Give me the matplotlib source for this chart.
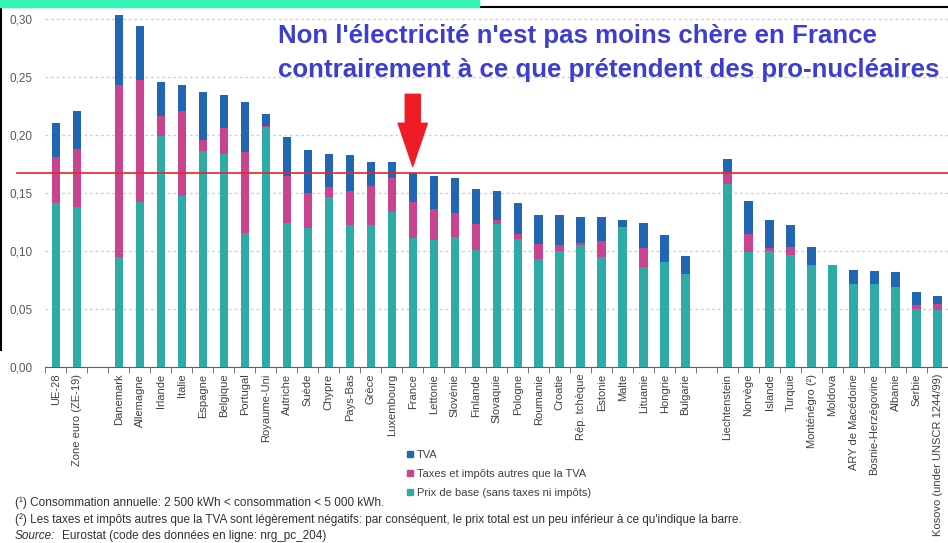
import numpy as np
import matplotlib
matplotlib.use("Agg")
import matplotlib.pyplot as plt
from matplotlib.patches import Rectangle, Patch
from matplotlib.lines import Line2D

plt.rcParams["font.family"] = ["Liberation Sans", "DejaVu Sans"]

# prix de l'électricité pour les ménages, EUR/kWh (2e semestre)
agg_labels = ["UE-28", "Zone euro (ZE-19)"]
agg_base = [0.1415, 0.1375]
agg_taxes = [0.0392, 0.0505]
agg_tva = [0.0293, 0.0326]

eu_labels = ["Danemark", "Allemagne", "Irlande", "Italie", "Espagne", "Belgique",
             "Portugal", "Royaume-Uni", "Autriche", "Suède", "Chypre", "Pays-Bas",
             "Grèce", "Luxembourg", "France", "Lettonie", "Slovénie", "Finlande",
             "Slovaquie", "Pologne", "Roumanie", "Croatie", "Rép. tchèque", "Estonie",
             "Malte", "Lituanie", "Hongrie", "Bulgarie"]
eu_base = [0.0944, 0.1424, 0.1990, 0.1476, 0.1864, 0.1838, 0.1151, 0.2070,
           0.1242, 0.1200, 0.1467, 0.1223, 0.1223, 0.1332, 0.1108, 0.1093,
           0.1122, 0.1007, 0.1231, 0.1099, 0.0932, 0.1001, 0.1053, 0.0949,
           0.1208, 0.0860, 0.0900, 0.0803]
eu_taxes = [0.1486, 0.1050, 0.0173, 0.0727, 0.0092, 0.0219, 0.0704, 0.0010,
            0.0403, 0.0296, 0.0081, 0.0293, 0.0339, 0.0299, 0.0316, 0.0270,
            0.0207, 0.0224, 0.0037, 0.0049, 0.0124, 0.0046, 0.0011, 0.0133,
            0.0000, 0.0164, 0.0000, 0.0000]
eu_tva = [0.0605, 0.0468, 0.0291, 0.0228, 0.0414, 0.0287, 0.0426, 0.0100,
          0.0334, 0.0374, 0.0287, 0.0313, 0.0207, 0.0132, 0.0245, 0.0282,
          0.0302, 0.0302, 0.0248, 0.0267, 0.0256, 0.0259, 0.0225, 0.0207,
          0.0058, 0.0216, 0.0239, 0.0152]

other_labels = ["Liechtenstein", "Norvège", "Islande", "Turquie", "Monténégro (²)",
                "Moldova", "ARY de Macédoine", "Bosnie-Herzégovine", "Albanie",
                "Serbie", "Kosovo (under UNSCR 1244/99)"]
other_base = [0.1576, 0.0992, 0.1001, 0.0966, 0.0875, 0.0880, 0.0711, 0.0711,
              0.0688, 0.0500, 0.0487]
other_taxes = [0.0104, 0.0156, 0.0020, 0.0069, 0.0000, 0.0000, 0.0000, 0.0000,
               0.0000, 0.0035, 0.0057]
other_tva = [0.0115, 0.0282, 0.0245, 0.0188, 0.0158, 0.0000, 0.0120, 0.0115,
             0.0126, 0.0107, 0.0066]

legend_labels = ["TVA", "Taxes et impôts autres que la TVA",
                 "Prix de base (sans taxes ni impôts)"]

c_tva = "#2166b2"
c_tax = "#c9448f"
c_base = "#2eaaa7"
txt = "#404040"

# groups separated by one empty slot
groups = [agg_labels, eu_labels, other_labels]
pos = []
start = 0
for g in groups:
    pos.extend(range(start, start + len(g)))
    start += len(g) + 1
x = np.array(pos)
labels = agg_labels + eu_labels + other_labels
base = np.array(agg_base + eu_base + other_base)
taxes = np.array(agg_taxes + eu_taxes + other_taxes)
tva = np.array(agg_tva + eu_tva + other_tva)

W, H = 948, 543
fig = plt.figure(figsize=(W / 100, H / 100), dpi=100)
ax = fig.add_axes([45 / W, 1 - 366.7 / H, 1 - 45 / W, 356.7 / H])

bw = 0.4
ax.bar(x, base, bw, color=c_base, zorder=3)
ax.bar(x, taxes, bw, bottom=base, color=c_tax, zorder=3)
ax.bar(x, tva, bw, bottom=base + taxes, color=c_tva, zorder=3)

ax.set_xlim(-0.52, 42.2)
ax.set_ylim(0, 0.3078)
yt = np.arange(0, 0.301, 0.05)
ax.set_yticks(yt)
ax.set_yticklabels([f"{v:.2f}".replace(".", ",") for v in yt], fontsize=8.5, color="#595959")
ax.tick_params(axis="y", length=0, pad=9)
ax.grid(axis="y", color="#d0d0d0", linestyle=(0, (2, 2)), linewidth=1, zorder=0)

ax.set_xticks(x)
ax.set_xticklabels(labels, rotation=90, fontsize=8, color=txt)
ax.set_xticks(np.arange(-0.5, 43, 1), minor=True)
ax.tick_params(axis="x", which="major", length=0, pad=5)
ax.tick_params(axis="x", which="minor", length=4, color="#606060", direction="out")

for s in ["left", "top", "right"]:
    ax.spines[s].set_visible(False)
ax.spines["bottom"].set_color("#606060")

# ligne de référence : prix total en France
fi = labels.index("France")
france_total = base[fi] + taxes[fi] + tva[fi]
ax.axhline(france_total, xmin=-28 / 903, xmax=1, color="#e8242b", linewidth=1.2,
           zorder=4, clip_on=False)
ax.annotate("", xy=(x[fi], france_total), xytext=(0, 79), textcoords="offset pixels",
            arrowprops=dict(arrowstyle="simple,head_length=3.1,head_width=2.1,tail_width=1.08",
                            color="#ee1c24", shrinkA=0, shrinkB=5, mutation_scale=10),
            zorder=5)

fig.text(278 / W, 1 - 43 / H, "Non l'électricité n'est pas moins chère en France",
         fontsize=18.6, fontweight="bold", color="#3d3dd2", ha="left", va="baseline")
fig.text(278 / W, 1 - 77 / H, "contrairement à ce que prétendent des pro-nucléaires",
         fontsize=18.6, fontweight="bold", color="#3d3dd2", ha="left", va="baseline")

handles = [Patch(color=c_tva), Patch(color=c_tax), Patch(color=c_base)]
fig.legend(handles, legend_labels, loc="upper left", bbox_to_anchor=(397 / W, 1 - 440 / H),
           frameon=False, fontsize=8, handlelength=0.55, handleheight=0.55,
           handletextpad=0.35, labelspacing=0.8, labelcolor=txt)

fs = 8.5
fig.text(15 / W, 1 - 503 / H,
         "(¹) Consommation annuelle: 2 500 kWh < consommation < 5 000 kWh.",
         fontsize=fs, color="#303030", va="center")
fig.text(15 / W, 1 - 520 / H,
         "(²) Les taxes et impôts autres que la TVA sont légèrement négatifs: par conséquent, "
         "le prix total est un peu inférieur à ce qu'indique la barre.",
         fontsize=fs, color="#303030", va="center")
fig.text(15 / W, 1 - 536 / H, "Source:", fontsize=fs, style="italic", color="#303030",
         va="center")
fig.text(62 / W, 1 - 536 / H, "Eurostat (code des données en ligne: nrg_pc_204)",
         fontsize=fs, color="#303030", va="center")

# bandeau de la capture d'écran
fig.patches.append(Rectangle((0, 1 - 7 / H), 479 / W, 7 / H, transform=fig.transFigure,
                             color="#33f5b5", zorder=10))
fig.lines.append(Line2D([479 / W, 479 / W, 1], [1, 1 - 7 / H, 1 - 7 / H],
                        transform=fig.transFigure, color="black", linewidth=1.5))
fig.lines.append(Line2D([0.7 / W, 0.7 / W], [1, 1 - 350 / H],
                        transform=fig.transFigure, color="black", linewidth=1.5))

fig.savefig("out.png", dpi=100)
